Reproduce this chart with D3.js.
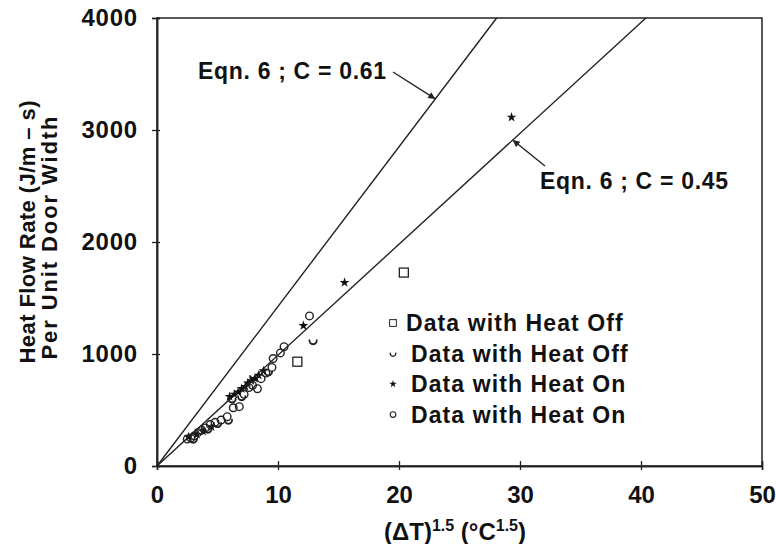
<!DOCTYPE html>
<html>
<head>
<meta charset="utf-8">
<script src="https://cdn.jsdelivr.net/npm/d3@7"></script>
<style>
  body { margin: 0; background: #fff; }
  svg text { font-family: "Liberation Sans", Arial, Helvetica, sans-serif; font-weight: bold; fill: #111; }
</style>
</head>
<body>
<div id="chart"></div>
<script>
// data: x = (dT)^1.5, y = heat flow rate
const heatOffSquare = [[11.6, 931], [20.4, 1727]];
const heatOffArc = [[3.0, 240], [4.2, 330], [5.0, 380], [5.9, 410], [6.2, 600], [7.0, 620],
  [8.0, 800], [9.2, 840], [12.9, 1120]];
const heatOnStar = [[2.6, 260], [3.3, 280], [3.8, 310], [4.5, 350], [6.0, 620], [6.4, 640],
  [6.7, 660], [7.0, 690], [7.3, 710], [7.5, 740], [7.8, 760], [8.1, 780], [8.4, 810],
  [8.8, 850], [12.1, 1253], [15.5, 1638], [29.3, 3114]];
const heatOnCircle = [[2.5, 240], [2.8, 250], [3.1, 270], [3.4, 300], [3.7, 320], [4.0, 340],
  [4.4, 370], [4.8, 390], [5.3, 410], [5.8, 440], [6.3, 520], [6.8, 530], [7.2, 640],
  [7.6, 700], [7.9, 720], [8.3, 690], [8.6, 780], [9.0, 830], [9.5, 880], [9.6, 960],
  [10.2, 1010], [10.5, 1065], [12.6, 1340]];

// Eqn. 6 lines: slope of heat flow vs (dT)^1.5
const eqnLabels = ['Eqn. 6 ; C = 0.61', 'Eqn. 6 ; C = 0.45'];
const eqnSlopes = [142.5, 99];
const eqnArrowAt = [23.0, 29.4];

const xTicks = [0, 10, 20, 30, 40, 50];
const yTicks = [0, 1000, 2000, 3000, 4000];
const legendLabels = ['Data with Heat Off', 'Data with Heat Off', 'Data with Heat On', 'Data with Heat On'];

const W = 776, H = 544;
const M = { TOP: 18, BOTTOM: 78, LEFT: 157, RIGHT: 14 };

const svg = d3.select('#chart').append('svg')
  .attr('width', W).attr('height', H);

const x = d3.scaleLinear().domain([0, 50]).range([M.LEFT, W - M.RIGHT]);
const y = d3.scaleLinear().domain([0, 4000]).range([H - M.BOTTOM, M.TOP]);

// box
svg.append('rect')
  .attr('x', x(0)).attr('y', y(4000))
  .attr('width', x(50) - x(0)).attr('height', y(0) - y(4000))
  .attr('fill', 'none').attr('stroke', '#222').attr('stroke-width', 1.5);

// x axis, ticks crossing the line
const gx = svg.append('g').attr('transform', `translate(0,${y(0)})`)
  .call(d3.axisBottom(x).tickValues(xTicks).tickSize(4).tickPadding(16).tickFormat(d3.format('d')));
svg.append('g').attr('transform', `translate(0,${y(0)})`)
  .call(d3.axisBottom(x).tickValues(xTicks).tickSize(-5).tickFormat(''));
gx.selectAll('text').style('font-size', '24px');

const gy = svg.append('g').attr('transform', `translate(${x(0)},0)`)
  .call(d3.axisLeft(y).tickValues(yTicks).tickSize(5).tickPadding(14).tickFormat(d3.format('d')));
svg.append('g').attr('transform', `translate(${x(0)},0)`)
  .call(d3.axisLeft(y).tickValues(yTicks).tickSize(-3).tickFormat(''));
gy.selectAll('text').style('font-size', '24px').style('letter-spacing', '0.8px');

svg.selectAll('.domain').attr('stroke', '#222').attr('stroke-width', 1.5);
svg.selectAll('.tick line').attr('stroke', '#222').attr('stroke-width', 1.3);

// axis titles
const xt = svg.append('text').attr('x', 455).attr('y', 540)
  .attr('text-anchor', 'middle').style('font-size', '24px');
xt.append('tspan').text('(\u0394T)');
xt.append('tspan').attr('dy', -9).style('font-size', '16px').text('1.5');
xt.append('tspan').attr('dy', 9).text(' (\u00b0C');
xt.append('tspan').attr('dy', -9).style('font-size', '16px').text('1.5');
xt.append('tspan').attr('dy', 9).text(')');

svg.append('text').attr('transform', 'translate(35,232) rotate(-90)')
  .attr('text-anchor', 'middle').style('font-size', '22px')
  .attr('textLength', 263).attr('lengthAdjust', 'spacing')
  .text('Heat Flow Rate (J/m \u2013 s)');
svg.append('text').attr('transform', 'translate(57,238) rotate(-90)')
  .attr('text-anchor', 'middle').style('font-size', '22px')
  .attr('textLength', 243).attr('lengthAdjust', 'spacing')
  .text('Per Unit Door Width');

// equation lines, clipped to the top of the box
const plot = svg.append('g');
eqnSlopes.forEach(s => {
  const xEnd = Math.min(50, 4000 / s);
  plot.append('line')
    .attr('x1', x(0)).attr('y1', y(0))
    .attr('x2', x(xEnd)).attr('y2', y(s * xEnd))
    .attr('stroke', '#222').attr('stroke-width', 1.4);
});

// arrows + labels
svg.append('defs').append('marker')
  .attr('id', 'arr').attr('viewBox', '0 0 10 10').attr('refX', 10).attr('refY', 5)
  .attr('markerWidth', 9).attr('markerHeight', 7).attr('orient', 'auto')
  .attr('markerUnits', 'userSpaceOnUse')
  .append('path').attr('d', 'M0,0 L10,5 L0,10 z').attr('fill', '#222');

const tip0 = [x(eqnArrowAt[0]), y(eqnSlopes[0] * eqnArrowAt[0])];
svg.append('line').attr('x1', 393).attr('y1', 72).attr('x2', tip0[0]).attr('y2', tip0[1])
  .attr('stroke', '#222').attr('stroke-width', 1.4).attr('marker-end', 'url(#arr)');
svg.append('text').attr('x', 198).attr('y', 79).style('font-size', '23px')
  .attr('textLength', 188).attr('lengthAdjust', 'spacing').text(eqnLabels[0]);

const tip1 = [x(eqnArrowAt[1]), y(eqnSlopes[1] * eqnArrowAt[1])];
svg.append('line').attr('x1', 545).attr('y1', 166).attr('x2', tip1[0]).attr('y2', tip1[1])
  .attr('stroke', '#222').attr('stroke-width', 1.4).attr('marker-end', 'url(#arr)');
svg.append('text').attr('x', 540).attr('y', 189).style('font-size', '23px')
  .attr('textLength', 188).attr('lengthAdjust', 'spacing').text(eqnLabels[1]);

// marker shapes
const arcPath = d3.arc().innerRadius(2.8).outerRadius(4.6)
  .startAngle(Math.PI * 0.4).endAngle(Math.PI * 1.6)();
function drawSquare(g) {
  g.append('rect').attr('x', -4.5).attr('y', -4.5).attr('width', 9).attr('height', 9)
    .attr('fill', '#fff').attr('stroke', '#222').attr('stroke-width', 1.3);
}
function drawArc(g) {
  g.append('path').attr('d', arcPath).attr('fill', '#222');
}
function drawStar(g) {
  g.append('path').attr('d', d3.symbol(d3.symbolStar, 30)()).attr('fill', '#111');
}
function drawCircle(g) {
  g.append('circle').attr('r', 3.8).attr('fill', 'none')
    .attr('stroke', '#222').attr('stroke-width', 1.4);
}

const series = [
  [heatOffSquare, drawSquare],
  [heatOffArc, drawArc],
  [heatOnStar, drawStar],
  [heatOnCircle, drawCircle]
];
series.forEach(([data, draw]) => {
  plot.selectAll(null).data(data).join('g')
    .attr('transform', d => `translate(${x(d[0])},${y(d[1])})`)
    .each(function () { draw(d3.select(this)); });
});

// legend
const legend = svg.append('g').attr('transform', 'translate(393,323)');
series.forEach(([, draw], i) => {
  const row = legend.append('g').attr('transform', `translate(0,${i * 30.5})`);
  const sym = row.append('g').attr('transform', 'scale(0.75)');
  draw(sym);
  row.append('text').attr('x', i === 0 ? 13 : 18).attr('y', 8)
    .style('font-size', '23px').style('letter-spacing', '1.1px')
    .text(legendLabels[i]);
});
</script>
</body>
</html>
